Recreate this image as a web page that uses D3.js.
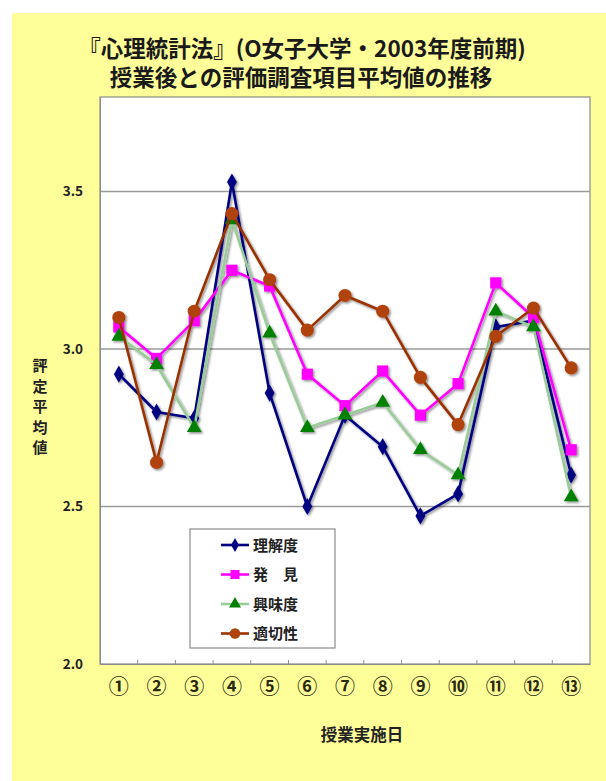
<!DOCTYPE html>
<html>
<head>
<meta charset="utf-8">
<script src="https://cdn.jsdelivr.net/npm/d3@7"></script>
<style>
  html, body { margin: 0; padding: 0; background: #ffffff; }
  svg { display: block; }
  text { font-family: "Noto Sans CJK JP", "Noto Sans", sans-serif; }
</style>
</head>
<body>
<svg id="chart" width="606" height="781"></svg>
<script>
// Lecture evaluation averages per session
const sessions = ["①","②","③","④","⑤","⑥","⑦","⑧","⑨","⑩","⑪","⑫","⑬"];
const understanding = [2.92, 2.80, 2.78, 3.53, 2.86, 2.50, 2.79, 2.69, 2.47, 2.54, 3.07, 3.09, 2.60];
const discovery     = [3.07, 2.97, 3.09, 3.25, 3.20, 2.92, 2.82, 2.93, 2.79, 2.89, 3.21, 3.10, 2.68];
const interest      = [3.04, 2.95, 2.75, 3.41, 3.05, 2.75, 2.79, 2.83, 2.68, 2.60, 3.12, 3.07, 2.53];
const suitability   = [3.10, 2.64, 3.12, 3.43, 3.22, 3.06, 3.17, 3.12, 2.91, 2.76, 3.04, 3.13, 2.94];
const seriesNames = ["理解度", "発　見", "興味度", "適切性"];
const yTicks = [2.0, 2.5, 3.0, 3.5];

const series = [
  { name: seriesNames[0], values: understanding, line: "#000080", fill: "#000080", shape: d3.symbolDiamond, size: 85 },
  { name: seriesNames[1], values: discovery,     line: "#ff00ff", fill: "#ff00ff", shape: d3.symbolSquare,  size: 125 },
  { name: seriesNames[2], values: interest,      line: "#99cc99", fill: "#008000", shape: d3.symbolTriangle, size: 95 },
  { name: seriesNames[3], values: suitability,   line: "#993300", fill: "#b0420e", shape: d3.symbolCircle, size: 135 }
];

const svg = d3.select("#chart");

// soft drop shadow used for lines and markers
const defs = svg.append("defs");
const shadow = defs.append("filter").attr("id", "shadow")
  .attr("x", "-20%").attr("y", "-20%").attr("width", "140%").attr("height", "140%");
shadow.append("feDropShadow").attr("dx", 1.5).attr("dy", 1.5)
  .attr("stdDeviation", 0.8).attr("flood-color", "#000").attr("flood-opacity", 0.45);

// yellow chart background
svg.append("rect").attr("x", 12).attr("y", 13).attr("width", 594).attr("height", 768)
  .attr("fill", "#ffff99");

// title
const title = svg.append("text").attr("text-anchor", "middle")
  .attr("font-weight", "bold").attr("font-size", 22.5).attr("fill", "#1a1a1a");
title.append("tspan").attr("x", 302).attr("y", 57).text("『心理統計法』(O女子大学・2003年度前期)");
title.append("tspan").attr("x", 301).attr("y", 86).text("授業後との評価調査項目平均値の推移");

const plot = { left: 100, right: 590, top: 97, bottom: 664 };

const x = d3.scaleBand().domain(sessions).range([plot.left, plot.right]).padding(0);
const y = d3.scaleLinear().domain([2.0, 3.8]).range([plot.bottom, plot.top]);

// plot area
svg.append("rect")
  .attr("x", plot.left).attr("y", plot.top)
  .attr("width", plot.right - plot.left).attr("height", plot.bottom - plot.top)
  .attr("fill", "#ffffff").attr("stroke", "#8c8c8c").attr("stroke-width", 1.2);

// horizontal gridlines
svg.append("g").selectAll("line").data(yTicks.filter(t => t > 2.0)).join("line")
  .attr("x1", plot.left).attr("x2", plot.right)
  .attr("y1", d => y(d)).attr("y2", d => y(d))
  .attr("stroke", "#9a9a9a").attr("stroke-width", 1.3);

// y axis
const yAxis = svg.append("g").attr("transform", `translate(${plot.left},0)`)
  .call(d3.axisLeft(y).tickValues(yTicks).tickFormat(d3.format(".1f")).tickSize(0).tickPadding(17));
yAxis.select(".domain").attr("stroke", "#8c8c8c");
yAxis.selectAll("text").attr("font-size", 13.5).attr("font-weight", "bold").attr("fill", "#222")
  .attr("font-family", "'Liberation Sans', Arial, sans-serif");

// x axis with ticks between categories
const xAxis = svg.append("g").attr("transform", `translate(0,${plot.bottom})`)
  .call(d3.axisBottom(x).tickSize(0).tickPadding(16));
xAxis.select(".domain").attr("stroke", "#8c8c8c");
xAxis.selectAll("text").attr("font-size", 20).attr("fill", "#2a2a10").attr("font-weight", "bold");
svg.append("g").selectAll("line").data(sessions.slice(1)).join("line")
  .attr("x1", d => x(d)).attr("x2", d => x(d))
  .attr("y1", plot.bottom).attr("y2", plot.bottom - 4)
  .attr("stroke", "#8c8c8c");

// axis titles
const yTitle = svg.append("text").attr("text-anchor", "middle")
  .attr("font-size", 15).attr("font-weight", "bold").attr("fill", "#222");
"評定平均値".split("").forEach((c, i) => {
  yTitle.append("tspan").attr("x", 40).attr("y", 371 + i * 20.5).text(c);
});
svg.append("text").attr("x", 362).attr("y", 741).attr("text-anchor", "middle")
  .attr("font-size", 16.5).attr("font-weight", "bold").attr("fill", "#222").text("授業実施日");

// series lines and markers
const line = d3.line()
  .x((d, i) => x(sessions[i]) + x.bandwidth() / 2)
  .y(d => y(d));

const seriesG = svg.append("g").attr("filter", "url(#shadow)");
series.forEach(s => {
  const g = seriesG.append("g");
  g.append("path").datum(s.values).attr("d", line)
    .attr("fill", "none").attr("stroke", s.line).attr("stroke-width", 2.6)
    .attr("stroke-linejoin", "round");
  g.selectAll("path.mark").data(s.values).join("path").attr("class", "mark")
    .attr("transform", (d, i) => `translate(${x(sessions[i]) + x.bandwidth() / 2},${y(d)})`)
    .attr("d", d3.symbol().type(s.shape).size(s.size))
    .attr("fill", s.fill);
});

// legend
const legend = svg.append("g");
legend.append("rect").attr("x", 190).attr("y", 529).attr("width", 145).attr("height", 119)
  .attr("fill", "#ffffff").attr("stroke", "#8c8c8c").attr("stroke-width", 1.2);
series.forEach((s, i) => {
  const cy = 545 + i * 29.5;
  const item = legend.append("g");
  item.append("line").attr("x1", 221).attr("x2", 249).attr("y1", cy).attr("y2", cy)
    .attr("stroke", s.line).attr("stroke-width", 2.6);
  item.append("path").attr("transform", `translate(235,${cy})`)
    .attr("d", d3.symbol().type(s.shape).size(s.size * 0.65)).attr("fill", s.fill);
  item.append("text").attr("x", 253).attr("y", cy + 5.5)
    .attr("font-size", 15).attr("font-weight", "bold").attr("fill", "#222").text(s.name);
});
</script>
</body>
</html>
